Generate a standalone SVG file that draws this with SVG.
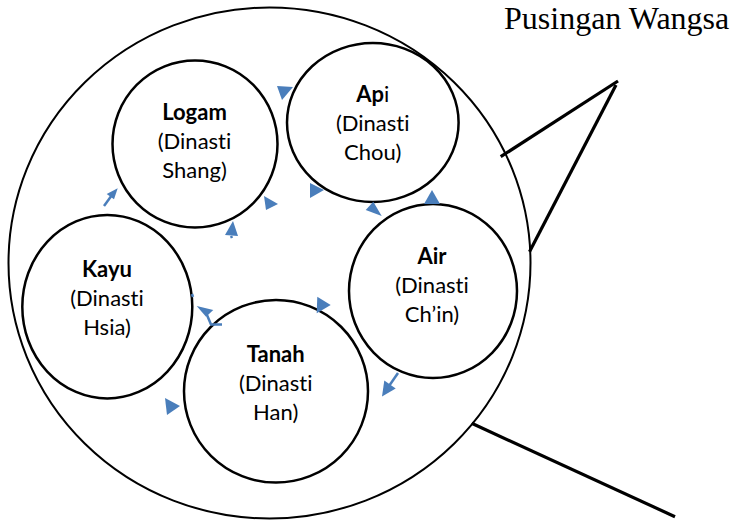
<svg xmlns="http://www.w3.org/2000/svg" width="735" height="520" viewBox="0 0 735 520">
<style>
.ring{fill:none;stroke:#000;stroke-width:2.5}
.big{fill:#fff;stroke:#000;stroke-width:2}
.bar{stroke:#000;stroke-width:3.2;stroke-linecap:butt;fill:none}
.t{font-family:Lato,"Open Sans",sans-serif;font-size:22px;fill:#000;text-anchor:middle;font-variant-ligatures:none}
.b{font-weight:bold}
.ah{fill:#4A7EBB;stroke:none}
.st{stroke:#4A7EBB;stroke-width:2.5;fill:none}
.title{font-family:"Liberation Serif","Times New Roman",serif;font-size:32px;fill:#000}
</style>
<rect width="735" height="520" fill="#fff"/>
<text class="title" x="504" y="29">Pusingan Wangsa</text>
<g id="callout">
<ellipse class="big" cx="269.5" cy="263" rx="261" ry="255.5"/>
<line class="bar" x1="500.7" y1="156.7" x2="618" y2="81"/>
<line class="bar" x1="616" y1="85" x2="529.5" y2="251.7"/>
<line class="bar" x1="471.7" y1="423.3" x2="675" y2="516.7"/>
</g>
<g id="logam">
<ellipse class="ring" cx="195" cy="144" rx="82.5" ry="83.5"/>
<text class="t b" x="194.5" y="120">Logam</text>
<text class="t" x="194.5" y="149">(Dinasti</text>
<text class="t" x="194.5" y="178">Shang)</text>
</g>
<g id="api">
<ellipse class="ring" cx="372.8" cy="122.5" rx="85.8" ry="79.5"/>
<text class="t" x="372.7" y="102"><tspan class="b">Ap</tspan>i</text>
<text class="t" x="372.7" y="131">(Dinasti</text>
<text class="t" x="372.7" y="160">Chou)</text>
</g>
<g id="air">
<ellipse class="ring" cx="433" cy="291" rx="84" ry="87"/>
<text class="t b" x="432" y="264">Air</text>
<text class="t" x="432" y="293">(Dinasti</text>
<text class="t" x="432" y="322">Ch’in)</text>
</g>
<g id="kayu">
<ellipse class="ring" cx="107.3" cy="306.7" rx="85" ry="91.7"/>
<text class="t b" x="107" y="277">Kayu</text>
<text class="t" x="107" y="306">(Dinasti</text>
<text class="t" x="107" y="335">Hsia)</text>
</g>
<g id="tanah">
<ellipse class="ring" cx="276" cy="391.3" rx="92" ry="91.3"/>
<text class="t b" x="275.7" y="362">Tanah</text>
<text class="t" x="275.7" y="391">(Dinasti</text>
<text class="t" x="275.7" y="420">Han)</text>
</g>
<g id="connectors">
<polygon class="ah" points="277,86 293,87 282,100"/>
<polygon class="ah" points="264,196 278,204 266,210"/>
<polygon class="ah" points="310,183 324,190 310,198"/>
<polygon class="ah" points="233,221 225,235 238,236"/>
<line class="st" x1="231" y1="236" x2="232" y2="238"/>
<polygon class="ah" points="365.7,210 373.3,201.7 381.7,216"/>
<polygon class="ah" points="432,190 424,204 440,204"/>
<line class="st" x1="398" y1="373" x2="389" y2="386"/>
<polygon class="ah" points="382,396.5 384.3,380.5 395.7,388.5"/>
<polygon class="ah" points="165,398 180,406 167,415"/>
<line class="st" x1="104" y1="206" x2="112" y2="195"/>
<polygon class="ah" points="117.7,188.3 106.7,194 114,199.3"/>
<polygon class="ah" points="196.7,306 213.3,310 206,316.7"/>
<polyline class="st" points="207,315 211,324.5 222,324.5"/>
<line class="st" x1="192" y1="294" x2="193" y2="297"/>
<polygon class="ah" points="317.3,296.7 330.7,305 316.7,313.3"/>
</g>
</svg>
